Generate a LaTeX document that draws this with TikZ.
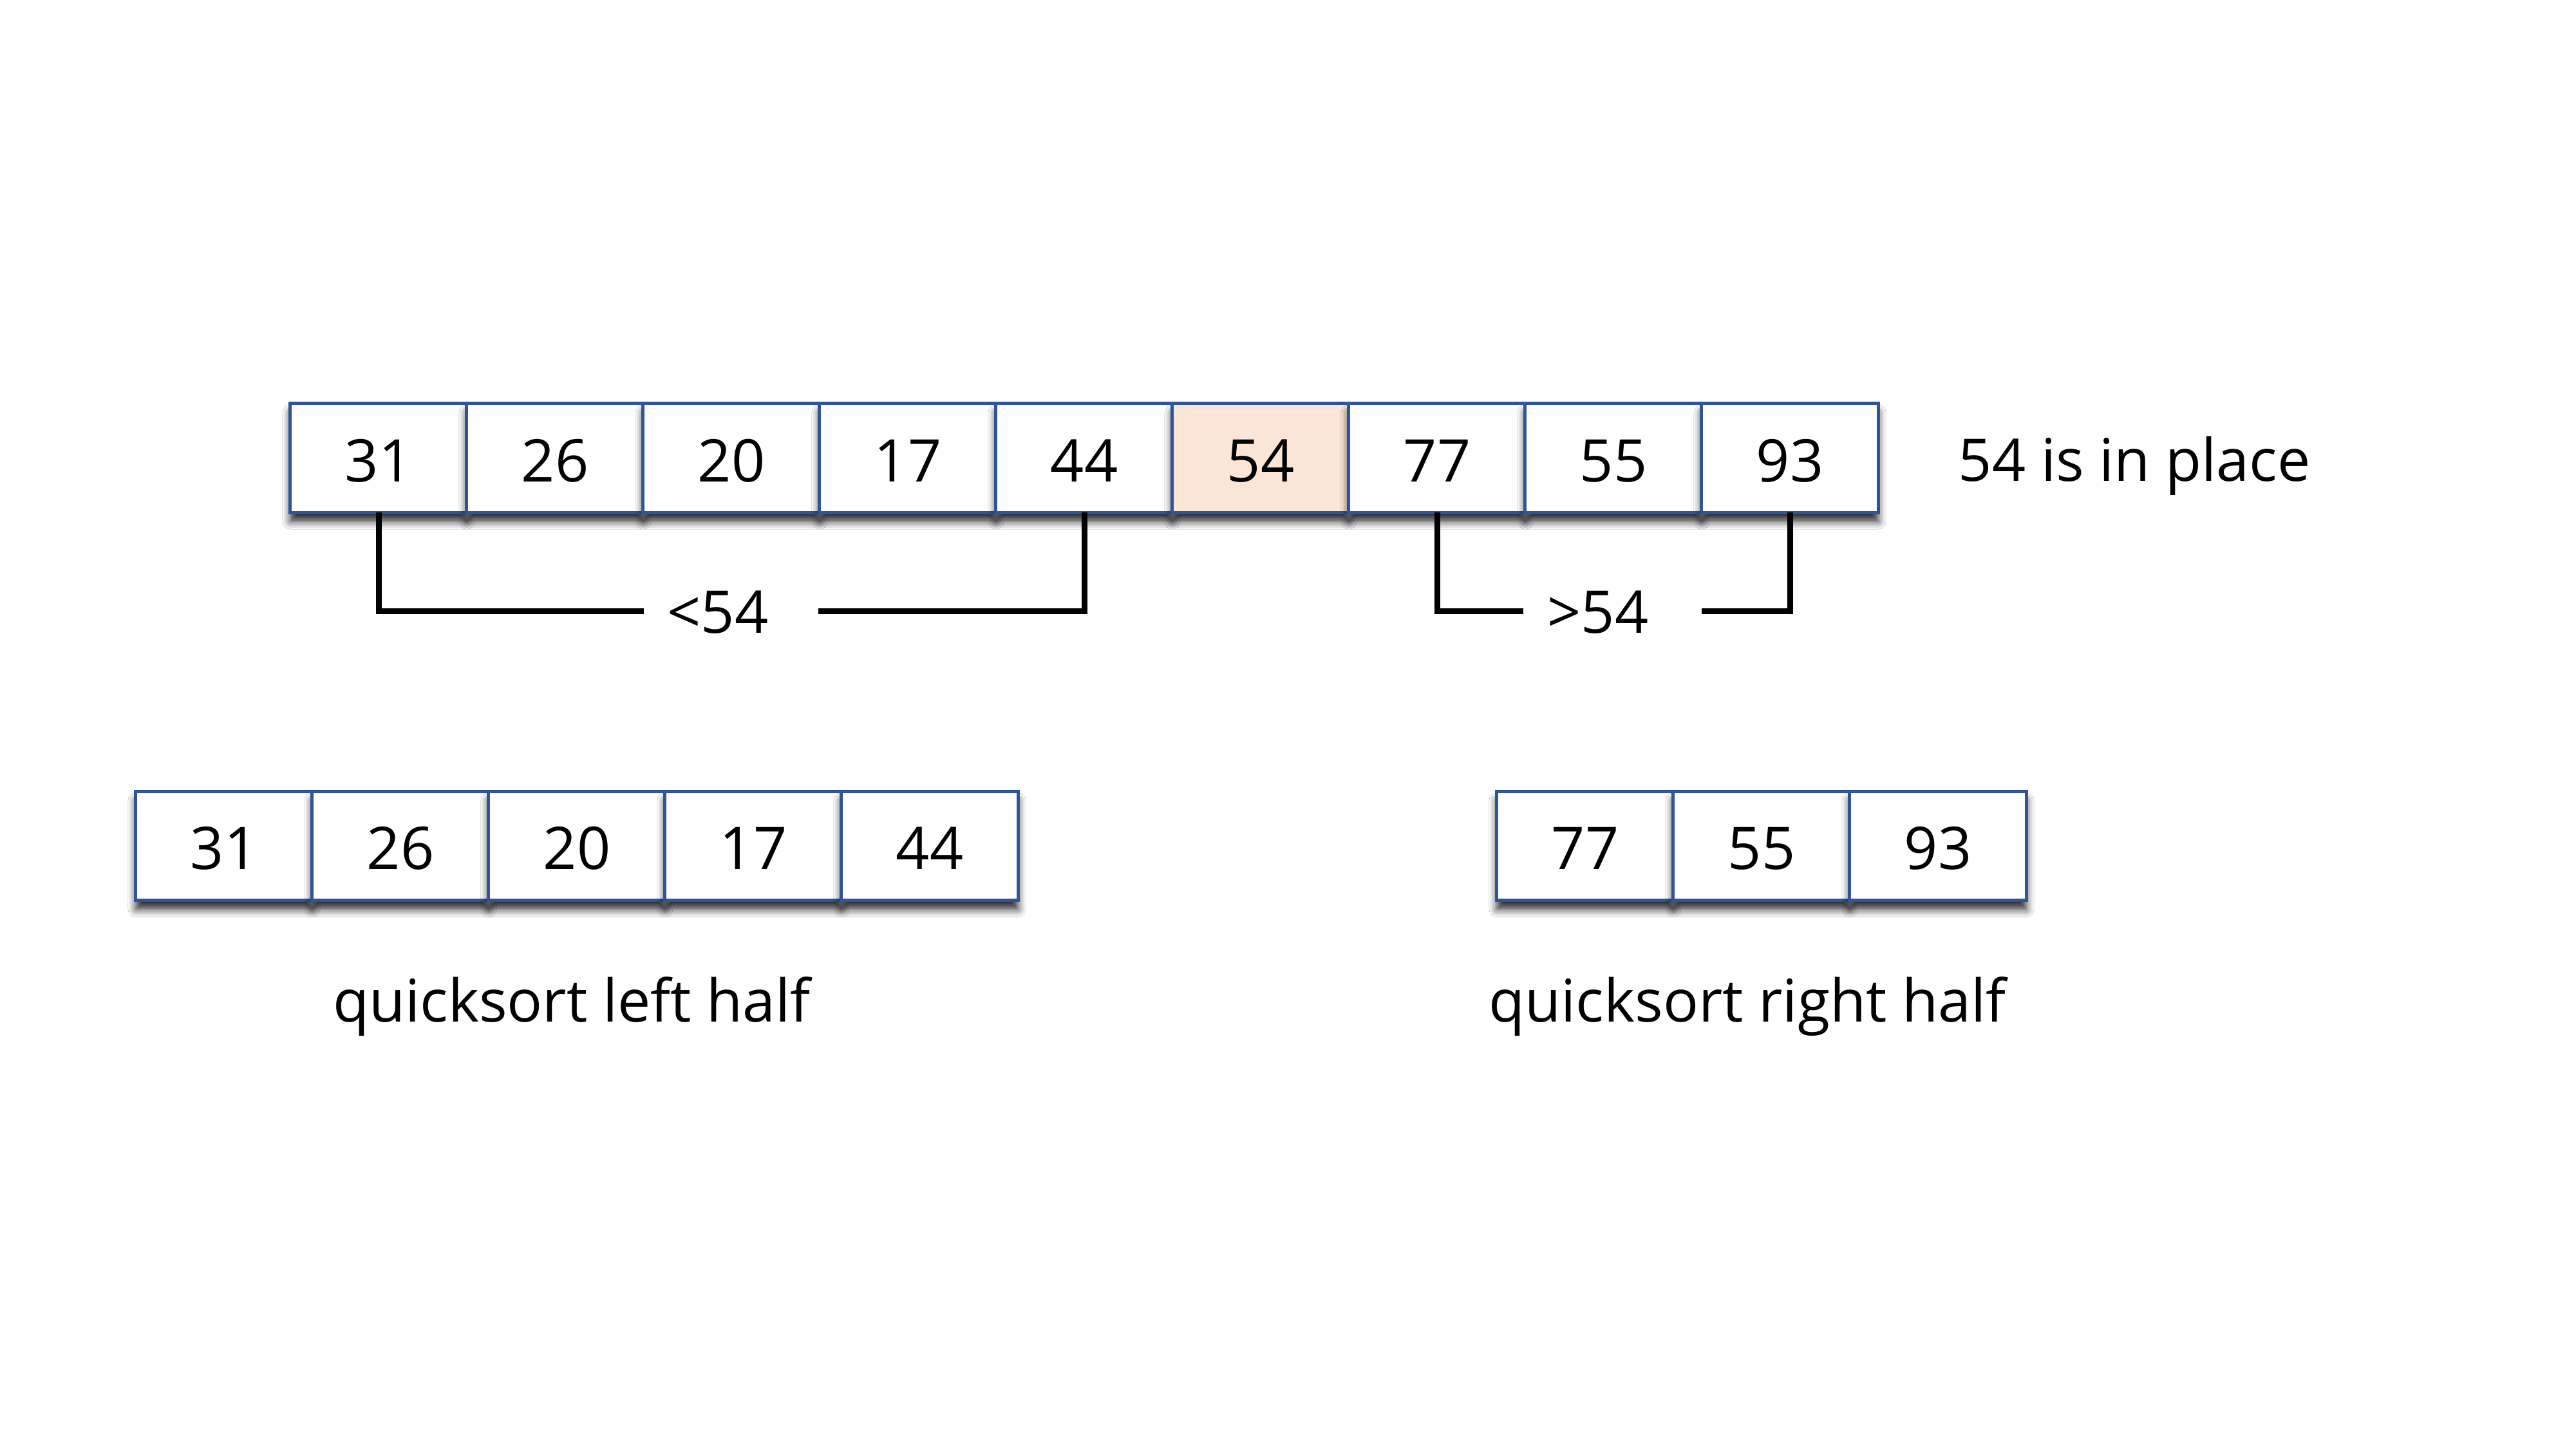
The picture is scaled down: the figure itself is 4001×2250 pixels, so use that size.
\documentclass[tikz,border=0pt]{standalone}
\usepackage{fontspec}
\setmainfont{Open Sans}
\usetikzlibrary{shadows.blur}
\definecolor{cellblue}{HTML}{2F5597}
\definecolor{pivotfill}{HTML}{FBE5D6}
\tikzset{
  cell/.style={draw=cellblue, line width=0.05cm, fill=white,
    minimum width=2.74cm, minimum height=1.69cm, inner sep=0pt, outer sep=0pt,
    text height=0.73cm, text depth=0pt,
    font=\fontsize{26}{30}\selectfont,
    blur shadow={shadow xshift=0cm, shadow yshift=-0.14cm, shadow blur radius=0.12cm, shadow blur steps=6, shadow opacity=85}},
  lbl/.style={font=\fontsize{26}{30}\selectfont, inner sep=0pt, anchor=base},
  bracket/.style={line width=0.09cm, black}
}
\begin{document}
\begin{tikzpicture}[x=0.01cm, y=-0.01cm]
\fill[white] (0,0) rectangle (4001,2250);
\useasboundingbox (0,0) rectangle (4001,2250);
% top row
\node[cell] (t1) at (588,711.5) {31};
\node[cell] (t2) at (862,711.5) {26};
\node[cell] (t3) at (1136,711.5) {20};
\node[cell] (t4) at (1410,711.5) {17};
\node[cell] (t5) at (1684,711.5) {44};
\node[cell, fill=pivotfill] (t6) at (1958,711.5) {54};
\node[cell] (t7) at (2232,711.5) {77};
\node[cell] (t8) at (2506,711.5) {55};
\node[cell] (t9) at (2780,711.5) {93};
\node[lbl] (inplace) at (3315,747) {54 is in place};
% brackets
\node[lbl] (lt) at (1115,983) {<54};
\node[lbl] (gt) at (2482,983) {>54};
\coordinate (la) at (1000,949);
\coordinate (lb) at (1271,949);
\coordinate (ra) at (2366,949);
\coordinate (rb) at (2643,949);
\draw[bracket] (t1.south) |- (la);
\draw[bracket] (lb) -| (t5.south);
\draw[bracket] (t7.south) |- (ra);
\draw[bracket] (rb) -| (t9.south);
% left half
\node[cell] (l1) at (348,1314) {31};
\node[cell] (l2) at (622,1314) {26};
\node[cell] (l3) at (896,1314) {20};
\node[cell] (l4) at (1170,1314) {17};
\node[cell] (l5) at (1444,1314) {44};
\node[lbl] (lefthalf) at (888,1587) {quicksort left half};
% right half
\node[cell] (r1) at (2462,1314) {77};
\node[cell] (r2) at (2736,1314) {55};
\node[cell] (r3) at (3010,1314) {93};
\node[lbl] (righthalf) at (2714,1587) {quicksort right half};
\end{tikzpicture}
\end{document}
